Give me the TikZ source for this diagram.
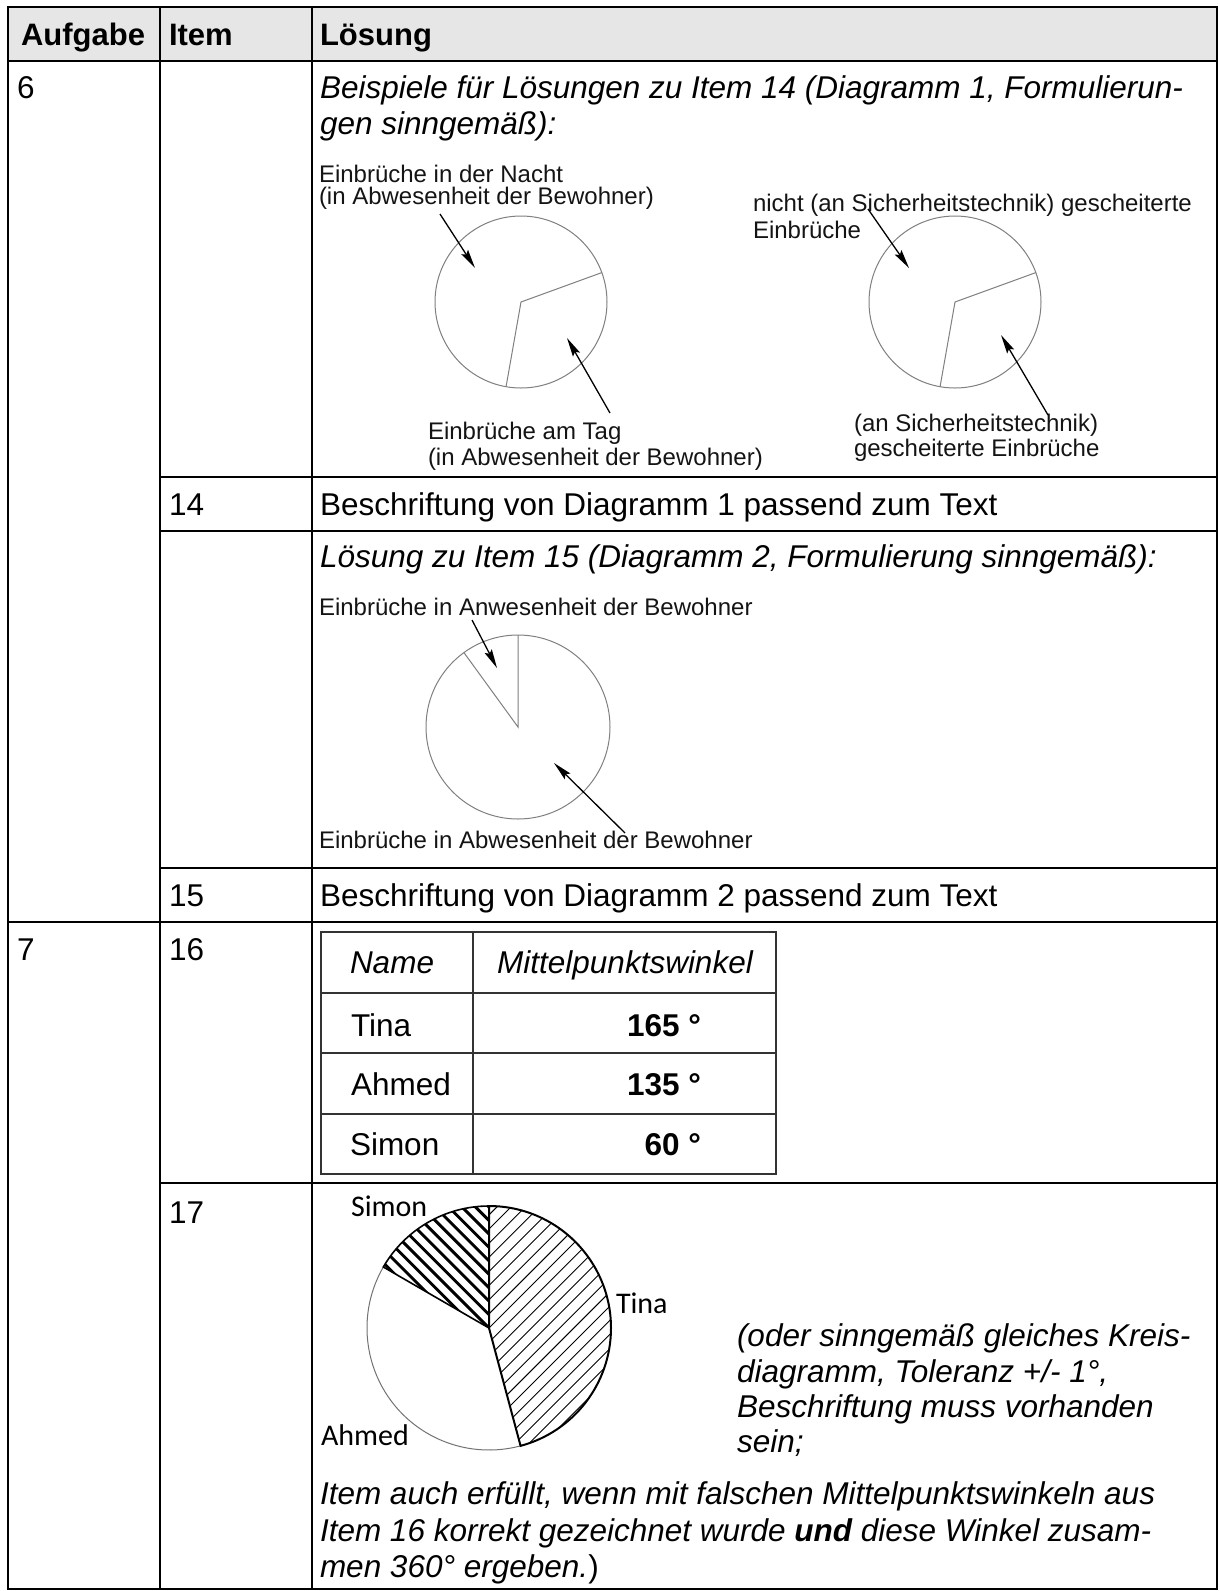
\documentclass[tikz,border=0pt]{standalone}
\usepackage{fontspec}
\setmainfont{Liberation Sans}
\newfontfamily\carl{Carlito}
\usetikzlibrary{arrows.meta,calc}
\definecolor{hdr}{HTML}{E6E6E6}
\begin{document}
\begin{tikzpicture}[x=1pt,y=1pt,
  every node/.style={inner sep=0pt, outer sep=0pt},
  main/.style={anchor=base west, font=\fontsize{31.5}{36}\selectfont},
  mainit/.style={anchor=base west, font=\fontsize{31.5}{36}\selectfont\itshape},
  hdrtxt/.style={anchor=base west, font=\fontsize{31}{36}\selectfont\bfseries},
  lbl/.style={anchor=base west, font=\fontsize{24}{26}\selectfont, text=black!92},
  plbl/.style={anchor=base west, font=\carl\fontsize{30}{32}\selectfont},
  rule/.style={line width=2.4pt},
  innerrule/.style={line width=1.4pt, draw=black!80},
  pieline/.style={draw=black!50, line width=1pt},
  arr/.style={-{Stealth[length=19pt,width=8pt,inset=3pt]}, line width=1.3pt},
]
\useasboundingbox (0,0) rectangle (1219,-1591);
\fill[white] (0,0) rectangle (1219,-1591);
% header
\fill[hdr] (8,-7) rectangle (1217,-61);
% outer table
\draw[rule] (8,-7) rectangle (1217,-1589);
\draw[rule] (8,-61) -- (1217,-61);
\draw[rule] (160,-7) -- (160,-1589);
\draw[rule] (312,-7) -- (312,-1589);
\draw[rule] (160,-477) -- (1217,-477);
\draw[rule] (160,-531) -- (1217,-531);
\draw[rule] (160,-868) -- (1217,-868);
\draw[rule] (8,-922) -- (1217,-922);
\draw[rule] (160,-1183) -- (1217,-1183);

% header text
\node[hdrtxt] (h1) at (21,-45) {Aufgabe};
\node[hdrtxt] (h2) at (169,-45) {Item};
\node[hdrtxt] (h3) at (320,-45) {Lösung};

% column texts
\node[main] (a6) at (17,-98) {6};
\node[main] (a7) at (17,-960) {7};
\node[main] (i14) at (169,-515) {14};
\node[main] (i15) at (169,-906) {15};
\node[main] (i16) at (169,-960) {16};
\node[main] (i17) at (169,-1223) {17};

\node[mainit] (t1) at (320,-98) {Beispiele für Lösungen zu Item 14 (Diagramm 1, Formulierun-};
\node[mainit] (t2) at (320,-134) {gen sinngemäß):};
\node[main] (t3) at (320,-515) {Beschriftung von Diagramm 1 passend zum Text};
\node[mainit] (t4) at (320,-567) {Lösung zu Item 15 (Diagramm 2, Formulierung sinngemäß):};
\node[main] (t5) at (320,-906) {Beschriftung von Diagramm 2 passend zum Text};

% pie 1
\coordinate (p1) at (521,-302);
\draw[pieline] (p1) circle[radius=86pt];
\draw[pieline] ($(p1)+(20:86pt)$) -- (p1) -- ($(p1)+(260:86pt)$);
\node[lbl] (l1a) at (319,-182) {Einbrüche in der Nacht};
\node[lbl] (l1b) at (319,-204) {(in Abwesenheit der Bewohner)};
\node[lbl] (l1c) at (428,-439) {Einbrüche am Tag};
\node[lbl] (l1d) at (428,-465) {(in Abwesenheit der Bewohner)};
\coordinate (a1s) at (440,-214);
\coordinate (a1t) at (475,-268);
\coordinate (a2s) at (610,-413);
\coordinate (a2t) at (567,-338);
\draw[arr] (a1s) -- (a1t);
\draw[arr] (a2s) -- (a2t);

% pie 2
\coordinate (p2) at (955,-302);
\draw[pieline] (p2) circle[radius=86pt];
\draw[pieline] ($(p2)+(20:86pt)$) -- (p2) -- ($(p2)+(260:86pt)$);
\node[lbl] (l2a) at (753,-211) {nicht (an Sicherheitstechnik) gescheiterte};
\node[lbl] (l2b) at (753,-238) {Einbrüche};
\node[lbl] (l2c) at (854,-431) {(an Sicherheitstechnik)};
\node[lbl] (l2d) at (854,-456) {gescheiterte Einbrüche};
\coordinate (b1s) at (868,-209);
\coordinate (b1t) at (909,-268);
\coordinate (b2s) at (1048,-415);
\coordinate (b2t) at (1001,-335);
\draw[arr] (b1s) -- (b1t);
\draw[arr] (b2s) -- (b2t);

% pie 3
\coordinate (p3) at (518,-727);
\draw[pieline] (p3) circle[radius=92pt];
\draw[pieline] ($(p3)+(90:92pt)$) -- (p3) -- ($(p3)+(126:92pt)$);
\node[lbl] (l3a) at (319,-615) {Einbrüche in Anwesenheit der Bewohner};
\node[lbl] (l3b) at (319,-848) {Einbrüche in Abwesenheit der Bewohner};
\coordinate (c1s) at (472,-620);
\coordinate (c1t) at (497,-668);
\coordinate (c2s) at (625,-833);
\coordinate (c2t) at (554,-763);
\draw[arr] (c1s) -- (c1t);
\draw[arr] (c2s) -- (c2t);

% inner table
\draw[innerrule] (321,-932) rectangle (776,-1174);
\draw[innerrule] (473,-932) -- (473,-1174);
\draw[innerrule] (321,-993) -- (776,-993);
\draw[innerrule] (321,-1053) -- (776,-1053);
\draw[innerrule] (321,-1114) -- (776,-1114);
\node[mainit] (n0) at (350,-973) {Name};
\node[anchor=base, font=\fontsize{31.5}{36}\selectfont\itshape] (m0) at (625,-973) {Mittelpunktswinkel};
\node[main] (n1) at (351,-1036) {Tina};
\node[main] (n2) at (351,-1095) {Ahmed};
\node[main] (n3) at (350,-1155) {Simon};
\node[anchor=base east, font=\fontsize{31.5}{36}\selectfont\bfseries] (v1) at (701,-1036) {165 °};
\node[anchor=base east, font=\fontsize{31.5}{36}\selectfont\bfseries] (v2) at (701,-1095) {135 °};
\node[anchor=base east, font=\fontsize{31.5}{36}\selectfont\bfseries] (v3) at (701,-1155) {60 °};

% pie 4
\coordinate (p4) at (489,-1328);
\begin{scope}
\clip (p4) -- ($(p4)+(90:122pt)$) arc[start angle=90,end angle=-75,radius=122pt] -- cycle;
\foreach \k in {-20,...,20}
  \draw[line width=0.9pt] ($(p4)+(-45:\k*10)+(45:-200)$) -- ($(p4)+(-45:\k*10)+(45:200)$);
\end{scope}
\begin{scope}
\clip (p4) -- ($(p4)+(90:122pt)$) arc[start angle=90,end angle=150,radius=122pt] -- cycle;
\foreach \k in {-20,...,20}
  \draw[line width=2.9pt] ($(p4)+(45:\k*9.5)+(-45:-200)$) -- ($(p4)+(45:\k*9.5)+(-45:200)$);
\end{scope}
\draw[line width=1pt, draw=black!55] ($(p4)+(150:122pt)$) arc[start angle=150,end angle=285,radius=122pt];
\draw[line width=2pt] (p4) -- ($(p4)+(90:122pt)$) arc[start angle=90,end angle=-75,radius=122pt] -- cycle;
\draw[line width=1.6pt] (p4) -- ($(p4)+(90:122pt)$) arc[start angle=90,end angle=150,radius=122pt] -- cycle;
\node[plbl] (s4) at (351,-1216) {Simon};
\node[plbl] (t4l) at (616,-1313) {Tina};
\node[plbl] (a4) at (321,-1445) {Ahmed};

\node[mainit] (r1) at (737,-1346) {(oder sinngemäß gleiches Kreis-};
\node[mainit] (r2) at (737,-1382) {diagramm, Toleranz +/- 1°,};
\node[mainit] (r3) at (737,-1417) {Beschriftung muss vorhanden};
\node[mainit] (r4) at (737,-1452) {sein;};
\node[mainit] (f1) at (320,-1504) {Item auch erfüllt, wenn mit falschen Mittelpunktswinkeln aus};
\node[mainit] (f2) at (320,-1541) {Item 16 korrekt gezeichnet wurde \textbf{und} diese Winkel zusam-};
\node[mainit] (f3) at (320,-1577) {men 360° ergeben.\upshape)};
\end{tikzpicture}
\end{document}
